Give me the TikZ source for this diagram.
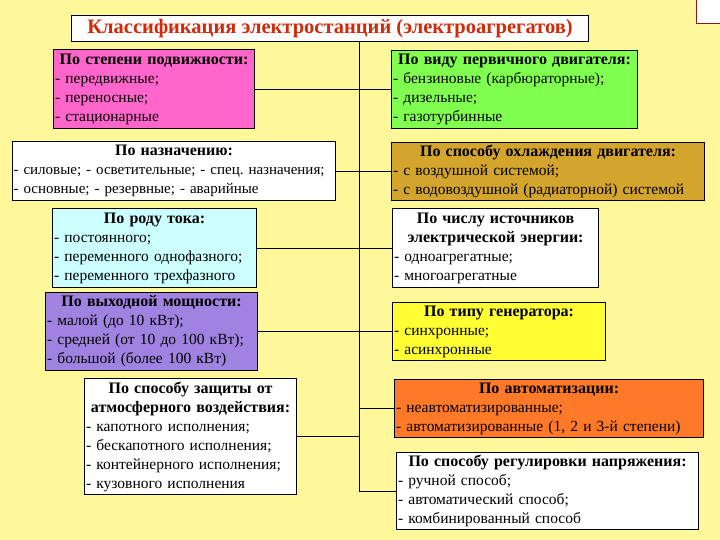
\documentclass[tikz,border=0pt]{standalone}
\usepackage{fontspec}
\setmainfont{Liberation Serif}
\frenchspacing
\definecolor{bgc}{HTML}{FFF89A}
\definecolor{pinkc}{HTML}{FF66CC}
\definecolor{greenc}{HTML}{80FF50}
\definecolor{goldc}{HTML}{D3A52C}
\definecolor{cyanc}{HTML}{CCFFFF}
\definecolor{purplec}{HTML}{A082E0}
\definecolor{yellowc}{HTML}{FFFF33}
\definecolor{orangec}{HTML}{FF7A28}
\definecolor{titlered}{HTML}{D02A0A}
\definecolor{darkredc}{HTML}{8B1A1A}
\newcommand{\hd}[1]{\makebox[\linewidth][c]{\fontsize{16}{19}\selectfont\bfseries #1}}
\tikzset{
  box/.style={draw=black, line width=1.1pt, anchor=north west, inner xsep=1.5pt, inner ysep=0pt,
    font=\fontsize{15.5}{19}\selectfont, align=left},
  conn/.style={draw=black, line width=1pt}
}
\begin{document}
\begin{tikzpicture}[x=1pt,y=-1pt]
\useasboundingbox (0,0) rectangle (720,540);
\fill[bgc] (0,0) rectangle (720,540);
\begin{scope}
\clip (0,0) rectangle (720,540);
\draw[fill=white, draw=darkredc, line width=1pt] (696,-3) rectangle (723,24);
\end{scope}

\node[draw=black, fill=white, line width=1.1pt, anchor=north west, minimum width=517pt, minimum height=26pt,
  inner sep=0pt, font=\fontsize{20.5}{22}\selectfont\bfseries, text=titlered] (title) at (71,15)
  {Классификация электростанций (электроагрегатов)};
\coordinate (stop) at (359,41);

\node[box, fill=pinkc, text width=198pt, minimum height=79pt] (mob) at (53,49)
  {\hd{По степени подвижности:}\\- передвижные;\\- переносные;\\- стационарные};
\node[box, fill=greenc, text width=243pt, minimum height=78pt] (eng) at (391,50)
  {\hd{По виду первичного двигателя:}\\- бензиновые (карбюраторные);\\- дизельные;\\- газотурбинные};
\node[box, fill=white, text width=321pt, minimum height=59pt, inner xsep=1pt, font=\fontsize{15}{19}\selectfont] (use) at (12,141)
  {\hd{По назначению:}\\\mbox{- силовые; - осветительные; - спец. назначения;}\\- основные; - резервные; - аварийные};
\node[box, fill=goldc, text width=310pt, minimum height=58pt] (cool) at (391,142)
  {\hd{По способу охлаждения двигателя:}\\- с воздушной системой;\\- с водовоздушной (радиаторной) системой};
\node[box, fill=cyanc, text width=201pt, minimum height=79pt] (cur) at (52,208)
  {\hd{По роду тока:}\\- постоянного;\\- переменного однофазного;\\- переменного трехфазного};
\node[box, fill=white, text width=203pt, minimum height=79pt] (src) at (392,208)
  {\hd{По числу источников}\\\hd{электрической энергии:}\\- одноагрегатные;\\- многоагрегатные};
\node[box, fill=purplec, text width=209pt, minimum height=78pt] (pow) at (45,292)
  {\hd{По выходной мощности:}\\- малой (до 10 кВт);\\- средней (от 10 до 100 кВт);\\- большой (более 100 кВт)};
\node[box, fill=yellowc, text width=210pt, minimum height=58pt] (gen) at (392,302)
  {\hd{По типу генератора:}\\- синхронные;\\- асинхронные};
\node[box, fill=white, text width=209pt, minimum height=116pt] (prot) at (84,378)
  {\hd{По способу защиты от}\\\hd{атмосферного воздействия:}\\- капотного исполнения;\\- бескапотного исполнения;\\- контейнерного исполнения;\\- кузовного исполнения};
\node[box, fill=orangec, text width=306pt, minimum height=58pt] (aut) at (394,379)
  {\hd{По автоматизации:}\\- неавтоматизированные;\\- автоматизированные (1, 2 и 3-й степени)};
\node[box, fill=white, text width=299pt, minimum height=77pt] (reg) at (396,452)
  {\hd{По способу регулировки напряжения:}\\- ручной способ;\\- автоматический способ;\\- комбинированный способ};

\draw[conn] (stop) -- (reg.west -| stop);
\foreach \n in {mob,use,cur,pow,prot}{\draw[conn] (\n.east) -- (\n.east -| stop);}
\foreach \n in {eng,cool,src,gen,aut,reg}{\draw[conn] (\n.west) -- (\n.west -| stop);}
\end{tikzpicture}
\end{document}
